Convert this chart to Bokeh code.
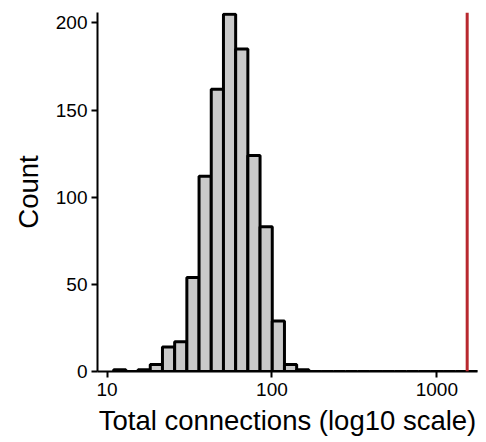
from bokeh.plotting import figure
from bokeh.models import Range1d, Span, FixedTicker, NumeralTickFormatter, ColumnDataSource
from bokeh.embed import file_html
from bokeh.resources import INLINE

# Histogram of total connections, binned on log10 scale
bin_start_log10 = 1.0398     # left edge of first bin (log10 units)
bin_width_log10 = 0.074      # bin width (log10 units)
counts = [1, 0, 1, 4, 14, 17, 54, 112, 162, 205, 185, 124, 83, 29, 4, 1,
          0, 0, 0, 0, 0, 0, 0, 0, 0, 0, 0, 0, 0, 0]
x_ticks = [10, 100, 1000]
y_ticks = [0, 50, 100, 150, 200]
observed_total = 1528        # red reference line

lefts = [10 ** (bin_start_log10 + i * bin_width_log10) for i in range(len(counts))]
rights = [10 ** (bin_start_log10 + (i + 1) * bin_width_log10) for i in range(len(counts))]
src = ColumnDataSource(dict(left=lefts, right=rights, top=counts, bottom=[0] * len(counts)))

p = figure(width=478, height=438, x_axis_type="log",
           x_range=Range1d(10 ** 0.9418, 10 ** 3.2467), y_range=Range1d(0, 206),
           output_backend="svg", toolbar_location=None,
           min_border_left=97, min_border_top=12, min_border_right=1, min_border_bottom=67)

p.quad(left="left", right="right", top="top", bottom="bottom", source=src,
       fill_color="#CACACA", line_color="black", line_width=3)

p.add_layout(Span(location=observed_total, dimension="height",
                  line_color="#B8282E", line_width=3))

p.xgrid.visible = False
p.ygrid.visible = False
p.outline_line_color = None
p.background_fill_color = "white"
p.border_fill_color = "white"

p.xaxis.ticker = FixedTicker(ticks=x_ticks)
p.xaxis.formatter = NumeralTickFormatter(format="0")
p.yaxis.ticker = FixedTicker(ticks=y_ticks)

p.xaxis.axis_label = "Total connections (log10 scale)"
p.yaxis.axis_label = "Count"

for ax in (p.xaxis, p.yaxis):
    ax.axis_line_color = "black"
    ax.axis_line_width = 2
    ax.major_tick_line_color = "black"
    ax.major_tick_line_width = 2
    ax.major_tick_out = 6
    ax.major_tick_in = 0
    ax.minor_tick_line_color = None
    ax.major_label_text_font = "Liberation Sans"
    ax.major_label_text_font_size = "19px"
    ax.major_label_text_color = "black"
    ax.axis_label_text_font = "Liberation Sans"
    ax.axis_label_text_font_size = "27.5px"
    ax.axis_label_text_font_style = "normal"
    ax.axis_label_text_color = "black"

p.xaxis.major_label_standoff = 5
p.xaxis.axis_label_standoff = 6
p.yaxis.major_label_standoff = 4
p.yaxis.axis_label_standoff = 9

open("out.html", "w").write(file_html(p, INLINE))
